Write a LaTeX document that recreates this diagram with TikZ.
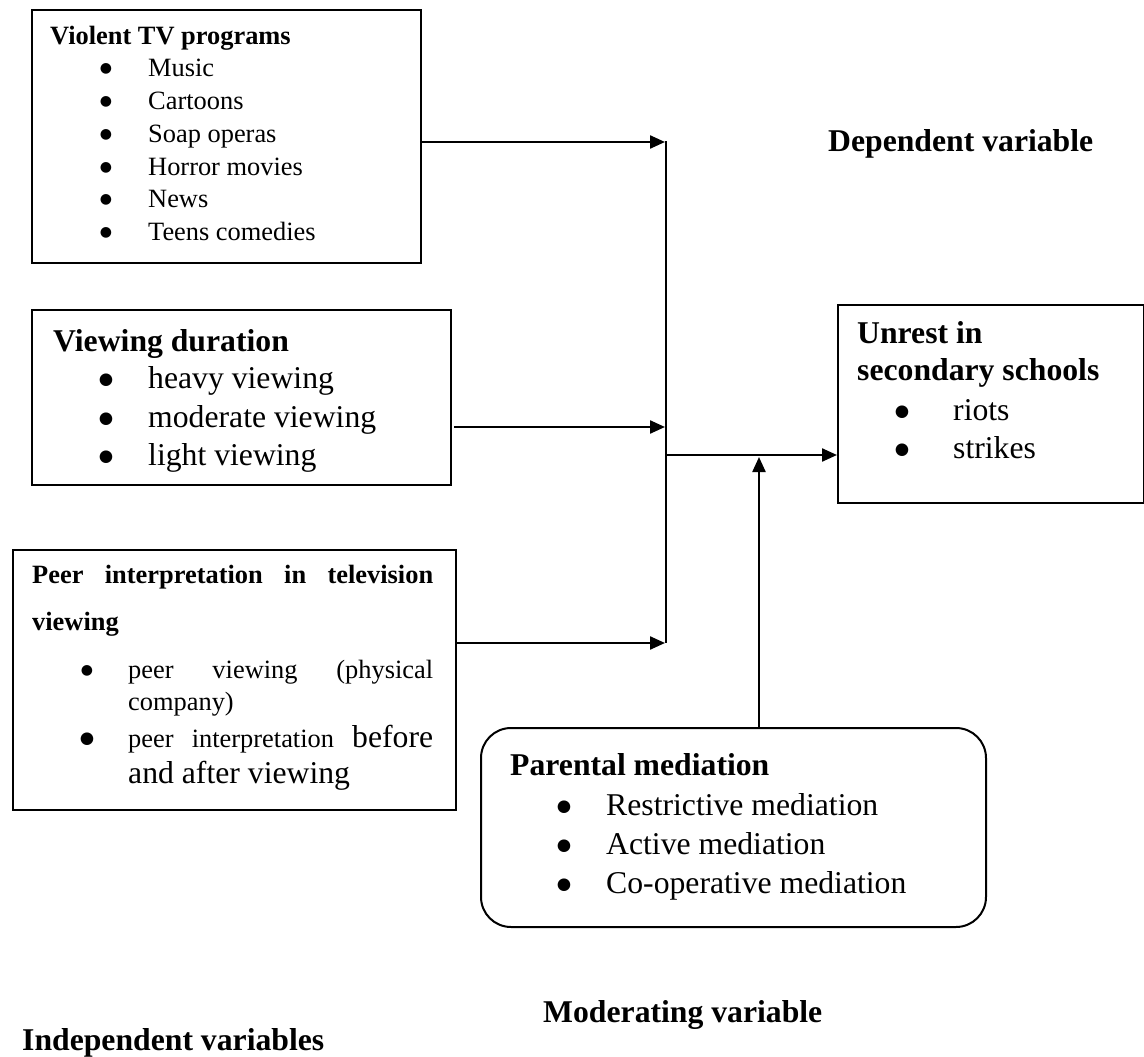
\documentclass[tikz,border=0pt]{standalone}
\usepackage{fontspec}
\setmainfont{Liberation Serif}
\newfontfamily\symfam{DejaVu Sans}
\usetikzlibrary{arrows.meta}
\newcommand\szA{\fontsize{26.4pt}{30pt}\selectfont}
\newcommand\szB{\fontsize{31.7pt}{36pt}\selectfont}
\newcommand\bulA{{\symfam\fontsize{14pt}{16pt}\selectfont ●}}
\newcommand\bulB{{\symfam\fontsize{16.5pt}{18pt}\selectfont ●}}
\begin{document}
\begin{tikzpicture}[x=1pt,y=-1pt,
  txt/.style={anchor=base west, inner sep=0pt},
  bul/.style={anchor=base, inner sep=0pt, yshift=4pt},
  framebox/.style={draw, line width=2pt, inner sep=0pt, anchor=north west},
  conn/.style={line width=2.2pt},
  arr/.style={line width=2.3pt, -{Triangle[length=15pt,width=13pt]}}]
\useasboundingbox (0,0) rectangle (1144,1057);
% ---------- frames ----------
\node[framebox, minimum width=389pt, minimum height=253pt] (b1) at (31,9) {};
\node[framebox, minimum width=419pt, minimum height=175pt] (b2) at (31,309) {};
\node[framebox, minimum width=443pt, minimum height=260pt] (b3) at (12,549) {};
\node[framebox, minimum width=306pt, minimum height=198pt] (b4) at (837,304) {};
\node[framebox, rounded corners=30pt, minimum width=505pt, minimum height=199pt] (b5) at (480,727) {};
% ---------- box 1 ----------
\node[txt] (t1) at (50,45) {\szA\bfseries Violent TV programs};
\node[bul] (u11) at (106,77) {\bulA};  \node[txt] (i11) at (148,77) {\szA Music};
\node[bul] (u12) at (106,110) {\bulA}; \node[txt] (i12) at (148,110) {\szA Cartoons};
\node[bul] (u13) at (106,142) {\bulA}; \node[txt] (i13) at (148,142) {\szA Soap operas};
\node[bul] (u14) at (106,175) {\bulA}; \node[txt] (i14) at (148,175) {\szA Horror movies};
\node[bul] (u15) at (106,207) {\bulA}; \node[txt] (i15) at (148,207) {\szA News};
\node[bul] (u16) at (106,240) {\bulA}; \node[txt] (i16) at (148,240) {\szA Teens comedies};
% ---------- box 2 ----------
\node[txt] (t2) at (53,351) {\szB\bfseries Viewing duration};
\node[bul] (u21) at (106,388) {\bulB}; \node[txt] (i21) at (148,388) {\szB heavy viewing};
\node[bul] (u22) at (106,427) {\bulB}; \node[txt] (i22) at (148,427) {\szB moderate viewing};
\node[bul] (u23) at (106,465) {\bulB}; \node[txt] (i23) at (148,465) {\szB light viewing};
% ---------- box 3 ----------
\node[txt] (t3a) at (32,583) {\szA\bfseries\makebox[401pt][s]{Peer interpretation in television}};
\node[txt] (t3b) at (32,630) {\szA\bfseries viewing};
\node[bul] (u31) at (87,678) {\bulA};
\node[txt] (i31a) at (128,678) {\szA\makebox[305pt][s]{peer viewing (physical}};
\node[txt] (i31b) at (128,710) {\szA company)};
\node[bul] (u32) at (87,747) {\bulB};
\node[txt] (i32a) at (128,747) {\szA\makebox[305pt][s]{peer interpretation {\szB before}}};
\node[txt] (i32b) at (128,783) {\szB and after viewing};
% ---------- box 4 ----------
\node[txt] (t4a) at (857,343) {\szB\bfseries Unrest in};
\node[txt] (t4b) at (857,380) {\szB\bfseries secondary schools};
\node[bul] (u41) at (902,420) {\bulB}; \node[txt] (i41) at (953,420) {\szB riots};
\node[bul] (u42) at (902,458) {\bulB}; \node[txt] (i42) at (953,458) {\szB strikes};
% ---------- parental box ----------
\node[txt] (t5) at (510,775) {\szB\bfseries Parental mediation};
\node[bul] (u51) at (564,815) {\bulB}; \node[txt] (i51) at (606,815) {\szB Restrictive mediation};
\node[bul] (u52) at (564,854) {\bulB}; \node[txt] (i52) at (606,854) {\szB Active mediation};
\node[bul] (u53) at (564,893) {\bulB}; \node[txt] (i53) at (606,893) {\szB Co-operative mediation};
% ---------- labels ----------
\node[txt] (ldep) at (828,151) {\szB\bfseries Dependent variable};
\node[txt] (lmod) at (543,1022) {\szB\bfseries Moderating variable};
\node[txt] (lind) at (22,1050) {\szB\bfseries Independent variables};
% ---------- connectors ----------
\coordinate (j1) at (666,142);
\coordinate (j2) at (666,427);
\coordinate (j3) at (666,643);
\coordinate (jm) at (666,455);
\coordinate (ju) at (759,457);
\coordinate (s2) at (454,427);
\draw[conn, line width=2pt] (666,141) -- (j3);
\draw[arr] (b1.east |- j1) -- ([xshift=-1pt]j1);
\draw[arr] (s2) -- ([xshift=-1pt]j2);
\draw[arr] (b3.east |- j3) -- ([xshift=-1pt]j3);
\draw[arr] (jm) -- (b4.west |- jm);
\draw[arr] (ju |- b5.north) -- (ju);
\end{tikzpicture}
\end{document}
